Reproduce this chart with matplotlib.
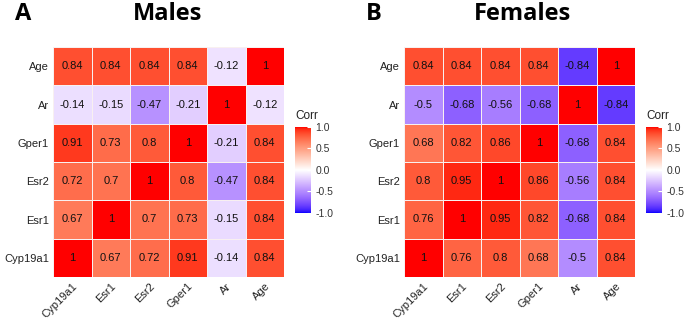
import numpy as np
import matplotlib.pyplot as plt
from matplotlib.colors import ListedColormap

genes = ['Cyp19a1', 'Esr1', 'Esr2', 'Gper1', 'Ar', 'Age']

# rows listed bottom (Cyp19a1) to top (Age), columns in the order of genes
males = np.array([
    [1, 0.67, 0.72, 0.91, -0.14, 0.84],
    [0.67, 1, 0.7, 0.73, -0.15, 0.84],
    [0.72, 0.7, 1, 0.8, -0.47, 0.84],
    [0.91, 0.73, 0.8, 1, -0.21, 0.84],
    [-0.14, -0.15, -0.47, -0.21, 1, -0.12],
    [0.84, 0.84, 0.84, 0.84, -0.12, 1],
])
females = np.array([
    [1, 0.76, 0.8, 0.68, -0.5, 0.84],
    [0.76, 1, 0.95, 0.82, -0.68, 0.84],
    [0.8, 0.95, 1, 0.86, -0.56, 0.84],
    [0.68, 0.82, 0.86, 1, -0.68, 0.84],
    [-0.5, -0.68, -0.56, -0.68, 1, -0.84],
    [0.84, 0.84, 0.84, 0.84, -0.84, 1],
])
cbar_ticks = [-1.0, -0.5, 0.0, 0.5, 1.0]

plt.rcParams['font.family'] = ['Liberation Sans', 'DejaVu Sans']


# ggplot-like gradient2: interpolate blue - white - red in CIELAB
def srgb_to_lab(c):
    c = np.asarray(c, float)
    lin = np.where(c <= 0.04045, c / 12.92, ((c + 0.055) / 1.055) ** 2.4)
    M = np.array([[0.4124, 0.3576, 0.1805],
                  [0.2126, 0.7152, 0.0722],
                  [0.0193, 0.1192, 0.9505]])
    xyz = M @ lin / np.array([0.95047, 1.0, 1.08883])
    f = np.where(xyz > 0.008856, np.cbrt(xyz), 7.787 * xyz + 16 / 116)
    return np.array([116 * f[1] - 16, 500 * (f[0] - f[1]), 200 * (f[1] - f[2])])


def lab_to_srgb(lab):
    L, a, b = lab
    fy = (L + 16) / 116
    fx = fy + a / 500
    fz = fy - b / 200
    f = np.array([fx, fy, fz])
    xyz = np.where(f ** 3 > 0.008856, f ** 3, (f - 16 / 116) / 7.787)
    xyz = xyz * np.array([0.95047, 1.0, 1.08883])
    Minv = np.array([[3.2406, -1.5372, -0.4986],
                     [-0.9689, 1.8758, 0.0415],
                     [0.0557, -0.2040, 1.0570]])
    lin = Minv @ xyz
    lin = np.clip(lin, 0, 1)
    c = np.where(lin <= 0.0031308, 12.92 * lin, 1.055 * lin ** (1 / 2.4) - 0.055)
    return np.clip(c, 0, 1)


blue = srgb_to_lab([0, 0, 1])
white = srgb_to_lab([1, 1, 1])
red = srgb_to_lab([1, 0, 0])
cols = []
for v in np.linspace(-1, 1, 256):
    if v < 0:
        lab = white + (blue - white) * (-v)
    else:
        lab = white + (red - white) * v
    cols.append(lab_to_srgb(lab))
cmap = ListedColormap(cols)

W, H = 684, 323
fig = plt.figure(figsize=(W / 100, H / 100), dpi=100)


def px(x0, y0, x1, y1):
    return [x0 / W, 1 - y1 / H, (x1 - x0) / W, (y1 - y0) / H]


def fmt(v):
    s = '%.2f' % v
    s = s.rstrip('0').rstrip('.')
    return s


def heatmap(data, box, cbox, letter, lx, title, tx):
    ax = fig.add_axes(px(*box))
    n = len(genes)
    mesh = ax.pcolormesh(np.arange(n + 1), np.arange(n + 1), data, cmap=cmap,
                         vmin=-1, vmax=1, edgecolor='#F8F0F0', linewidth=0.5)
    for i in range(n):
        for j in range(n):
            ax.text(j + 0.5, i + 0.5, fmt(data[i, j]), ha='center', va='center',
                    fontsize=8, color='#111111')
    ax.set_xlim(0, n)
    ax.set_ylim(0, n)
    ax.set_xticks(np.arange(n) + 0.5)
    ax.set_yticks(np.arange(n) + 0.5)
    ax.set_xticklabels(genes, rotation=45, ha='right', rotation_mode='anchor',
                       fontsize=8, color='#222222')
    ax.set_yticklabels(genes, fontsize=8, color='#222222')
    ax.tick_params(length=0, pad=3)
    for s in ax.spines.values():
        s.set_visible(False)

    cax = fig.add_axes(px(*cbox))
    cb = fig.colorbar(mesh, cax=cax, ticks=cbar_ticks)
    cb.outline.set_visible(False)
    cb.ax.tick_params(labelsize=7.5, colors='white', length=3, direction='in',
                      width=0.8, pad=3)
    cb.ax.set_yticklabels(['%.1f' % t for t in cbar_ticks])
    for t in cb.ax.get_yticklabels():
        t.set_color('#333333')
    cax.text(0, 1.06, 'Corr', transform=cax.transAxes, fontsize=8.5,
             ha='left', va='bottom', color='#222222')

    fig.text(lx / W, 1 - 14 / H, letter, fontsize=17, fontweight='bold',
             family=['Open Sans', 'DejaVu Sans'], ha='left', va='center')
    fig.text(tx / W, 1 - 14 / H, title, fontsize=17, fontweight='bold',
             family=['Open Sans', 'DejaVu Sans'], ha='center', va='center')


heatmap(males, (53, 47, 284, 277), (295, 127, 311, 213), 'A', 15, 'Males', 168)
heatmap(females, (404, 47, 635, 277), (646, 127, 662, 213), 'B', 366, 'Females', 522)

fig.savefig('out.png', dpi=100)
